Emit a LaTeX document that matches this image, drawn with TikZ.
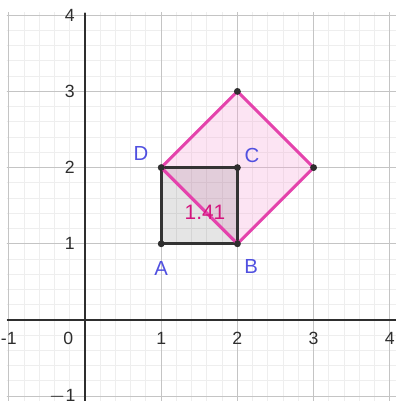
\documentclass[tikz,border=0pt]{standalone}
\usepackage{fontspec}
\setmainfont{Liberation Sans}
\usetikzlibrary{positioning, calc}
\definecolor{gridminor}{HTML}{EEEEEE}
\definecolor{gridmajor}{HTML}{C4C4C4}
\definecolor{axisdark}{HTML}{2E2E2E}
\definecolor{pinkline}{HTML}{E443AC}
\definecolor{pinkfill}{HTML}{F6A6D6}
\definecolor{sqline}{HTML}{333333}
\definecolor{ptlabel}{HTML}{5050E0}
\definecolor{valtext}{HTML}{D4157E}

\begin{document}
\begin{tikzpicture}[
  tick/.style={font=\fontsize{6.6}{7}\selectfont\color{axisdark}, inner sep=0pt},
  ptname/.style={font=\fontsize{7.6}{8}\selectfont\color{ptlabel}, inner sep=0pt},
  dot/.style={circle, fill=axisdark, inner sep=0pt, minimum size=0.9mm}
]
  \useasboundingbox (-1.1155,-1.063) rectangle (4.0814,4.1995);

  % grid
  \begin{scope}
    \clip (-1.025,-1.063) rectangle (4.0814,4.03);
    \draw[gridminor, line width=0.35pt] (-1.2,-1.2) grid[step=0.2] (4.2,4.2);
    \draw[gridmajor, line width=0.45pt] (-2,-2) grid[step=1] (5,5);
  \end{scope}
  \draw[axisdark, line width=0.6pt] (-1.025,0) -- (4.0814,0);
  \draw[axisdark, line width=0.6pt] (0,-1.063) -- (0,4.03);

  % axis numbers
  \foreach \x in {1,2,3,4}
    \node[tick] (xt\x) at (\x,-0.236) {\x};
  \node[tick] (xtm) at (-1.0,-0.236) {-1};
  \node[tick] (zero) at (-0.22,-0.236) {0};
  \foreach \y in {1,2,3,4}
    \node[tick] (yt\y) at (-0.2,\y) {\y};
  \node[tick] (ytm) at (-0.3,-1.0) {$-$1};

  % points
  \coordinate (A) at (1,1);
  \coordinate (B) at (2,1);
  \coordinate (C) at (2,2);
  \coordinate (D) at (1,2);
  \coordinate (E) at (3,2);
  \coordinate (F) at (2,3);

  % squares
  \fill[pinkfill, fill opacity=0.3] (D) -- (B) -- (E) -- (F) -- cycle;
  \fill[black, fill opacity=0.1] (A) -- (B) -- (C) -- (D) -- cycle;
  \draw[sqline, line width=1.2pt, line join=round] (A) -- (B) -- (C) -- (D) -- cycle;
  \draw[pinkline, line width=1.15pt, line join=round] (D) -- (B) -- (E) -- (F) -- cycle;

  \foreach \p in {A,B,C,D,E,F}
    \node[dot] (dot\p) at (\p) {};

  % labels
  \node[ptname] (labA) at (1.0,0.68) {A};
  \node[ptname] (labB) at (2.18,0.70) {B};
  \node[ptname] (labC) at (2.19,2.16) {C};
  \node[ptname] (labD) at (0.735,2.19) {D};
  \node[font=\fontsize{7.8}{9}\selectfont\color{valtext}, inner sep=0pt] (side) at (1.575,1.415) {1.41};
\end{tikzpicture}
\end{document}
